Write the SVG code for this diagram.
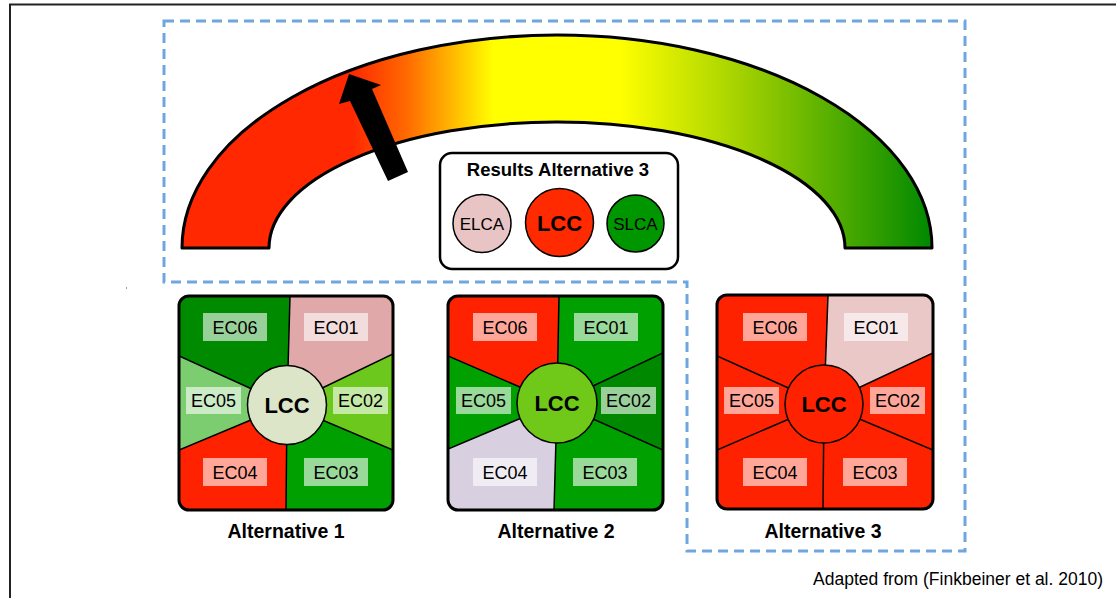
<svg xmlns="http://www.w3.org/2000/svg" width="1116" height="598" viewBox="0 0 1116 598">
  <defs>
    <linearGradient id="gaugeGrad" gradientUnits="userSpaceOnUse" x1="182" y1="0" x2="932" y2="0">
      <stop offset="0" stop-color="#ff2800"/>
      <stop offset="0.227" stop-color="#ff2800"/>
      <stop offset="0.3" stop-color="#ff6a00"/>
      <stop offset="0.415" stop-color="#ffff00"/>
      <stop offset="0.584" stop-color="#ffff00"/>
      <stop offset="0.75" stop-color="#a0d000"/>
      <stop offset="1" stop-color="#008800"/>
    </linearGradient>
    <clipPath id="clip1"><rect x="179" y="296" width="214" height="214" rx="10"/></clipPath>
    <clipPath id="clip2"><rect x="448" y="296" width="215" height="214" rx="10"/></clipPath>
    <clipPath id="clip3"><rect x="717" y="295" width="216" height="214" rx="10"/></clipPath>
  </defs>
  <style>
    .txt { font-family: "Liberation Sans", Arial, sans-serif; fill: #000; }
    .lbl { font-size: 18px; text-anchor: middle; }
    .title { font-size: 19.5px; font-weight: bold; text-anchor: middle; }
    .lcc { font-size: 22px; font-weight: bold; text-anchor: middle; }
    .small { font-size: 17px; text-anchor: middle; }
    .tag { fill: #ffffff; fill-opacity: 0.6; }
    .div { stroke: #000; stroke-width: 1.5; fill: none; }
    .frame { fill: none; stroke: #000; stroke-width: 3; }
    .hub { stroke: #000; stroke-width: 1.5; }
  </style>

  <rect width="1116" height="598" fill="#ffffff"/>

  <!-- page border (top and left) -->
  <path d="M10,598 V4.5 H1116" fill="none" stroke="#222" stroke-width="2"/>
  <rect x="126" y="287" width="1" height="2" fill="#999"/>

  <!-- highlight region around gauge and alternative 3 -->
  <path id="highlight" d="M164,21 H965 V551 H687 V282 H164 Z" fill="none" stroke="#6fa6de" stroke-width="3" stroke-dasharray="10 6"/>

  <!-- gauge arc -->
  <g id="gauge">
    <path d="M182,248 A375,213 0 0 1 932,248 L845,248 A288,126 0 0 0 269,248 Z" fill="url(#gaugeGrad)" stroke="#000" stroke-width="3" stroke-linejoin="round"/>
  </g>

  <!-- gauge needle -->
  <g id="connectors">
    <polygon points="349,74 381,85 372,89 408,172 388,181 350,101 339,104" fill="#000"/>
  </g>

  <!-- results summary -->
  <g id="results">
    <rect x="440" y="153" width="238" height="116" rx="12" fill="#fff" stroke="#000" stroke-width="2.5"/>
    <text class="txt" x="558" y="176" font-size="18.5" font-weight="bold" text-anchor="middle">Results Alternative 3</text>
    <circle cx="482" cy="223.5" r="29" fill="#e8c4c4" class="hub"/>
    <text class="txt small" x="482" y="229.5">ELCA</text>
    <circle cx="559.5" cy="222.5" r="34" fill="#ff2a00" class="hub"/>
    <text class="txt lcc" x="559.5" y="230.5">LCC</text>
    <circle cx="635.5" cy="223.5" r="28.5" fill="#009600" class="hub"/>
    <text class="txt small" x="635.5" y="229.5">SLCA</text>
  </g>

  <!-- alternative 1 -->
  <g id="alt1">
    <g clip-path="url(#clip1)">
      <polygon points="287,405 290,296 393,296 393,354" fill="#e0a8a8"/>
      <polygon points="287,405 393,354 393,450" fill="#6cc81c"/>
      <polygon points="287,405 393,450 393,510 286,510" fill="#00a000"/>
      <polygon points="287,405 286,510 179,510 179,450" fill="#ff2200"/>
      <polygon points="287,405 179,450 179,356" fill="#7ccc70"/>
      <polygon points="287,405 179,356 179,296 290,296" fill="#008a00"/>
      <path class="div" d="M290,296 L287,405 M393,354 L287,405 M393,450 L287,405 M286,510 L287,405 M179,450 L287,405 M179,356 L287,405"/>
    </g>
    <rect x="179" y="296" width="214" height="214" rx="10" class="frame"/>
    <circle cx="287" cy="405" r="39.5" fill="#dde5c8" class="hub"/>
    <text class="txt lcc" x="287" y="413">LCC</text>
    <rect class="tag" x="203" y="313" width="64" height="28"/><text class="txt lbl" x="235" y="333.5">EC06</text>
    <rect class="tag" x="304" y="313" width="64" height="28"/><text class="txt lbl" x="336" y="333.5">EC01</text>
    <rect class="tag" x="186" y="387" width="55" height="27"/><text class="txt lbl" x="213.5" y="406.5">EC05</text>
    <rect class="tag" x="333" y="387" width="55" height="27"/><text class="txt lbl" x="360.5" y="406.5">EC02</text>
    <rect class="tag" x="203" y="458" width="64" height="28"/><text class="txt lbl" x="235" y="478.5">EC04</text>
    <rect class="tag" x="304" y="458" width="64" height="28"/><text class="txt lbl" x="336" y="478.5">EC03</text>
    <text class="txt title" x="286" y="538">Alternative 1</text>
  </g>

  <!-- alternative 2 -->
  <g id="alt2">
    <g clip-path="url(#clip2)">
      <polygon points="557,403 559,296 663,296 663,353" fill="#00a000"/>
      <polygon points="557,403 663,353 663,450" fill="#008800"/>
      <polygon points="557,403 663,450 663,510 554,510" fill="#00a000"/>
      <polygon points="557,403 554,510 448,510 448,449" fill="#d8d0e0"/>
      <polygon points="557,403 448,449 448,356" fill="#00a000"/>
      <polygon points="557,403 448,356 448,296 559,296" fill="#ff2200"/>
      <path class="div" d="M559,296 L557,403 M663,353 L557,403 M663,450 L557,403 M554,510 L557,403 M448,449 L557,403 M448,356 L557,403"/>
    </g>
    <rect x="448" y="296" width="215" height="214" rx="10" class="frame"/>
    <circle cx="557" cy="403" r="40" fill="#70c818" class="hub"/>
    <text class="txt lcc" x="557" y="411">LCC</text>
    <rect class="tag" x="473" y="313" width="64" height="28"/><text class="txt lbl" x="505" y="333.5">EC06</text>
    <rect class="tag" x="574" y="313" width="64" height="28"/><text class="txt lbl" x="606" y="333.5">EC01</text>
    <rect class="tag" x="456" y="387" width="55" height="27"/><text class="txt lbl" x="483.5" y="406.5">EC05</text>
    <rect class="tag" x="601" y="387" width="55" height="27"/><text class="txt lbl" x="628.5" y="406.5">EC02</text>
    <rect class="tag" x="473" y="458" width="64" height="28"/><text class="txt lbl" x="505" y="478.5">EC04</text>
    <rect class="tag" x="573" y="458" width="64" height="28"/><text class="txt lbl" x="605" y="478.5">EC03</text>
    <text class="txt title" x="556" y="538">Alternative 2</text>
  </g>

  <!-- alternative 3 -->
  <g id="alt3">
    <g clip-path="url(#clip3)">
      <polygon points="824,404 828,295 933,295 933,353" fill="#ebc8c8"/>
      <polygon points="824,404 933,353 933,450" fill="#ff2200"/>
      <polygon points="824,404 933,450 933,509 823,509" fill="#ff2200"/>
      <polygon points="824,404 823,509 717,509 717,450" fill="#ff2200"/>
      <polygon points="824,404 717,450 717,356" fill="#ff2200"/>
      <polygon points="824,404 717,356 717,295 828,295" fill="#ff2200"/>
      <path class="div" d="M828,295 L824,404 M933,353 L824,404 M933,450 L824,404 M823,509 L824,404 M717,450 L824,404 M717,356 L824,404"/>
    </g>
    <rect x="717" y="295" width="216" height="214" rx="10" class="frame"/>
    <circle cx="824" cy="404" r="39" fill="#ff2200" class="hub"/>
    <text class="txt lcc" x="824" y="412">LCC</text>
    <rect class="tag" x="743" y="313" width="64" height="28"/><text class="txt lbl" x="775" y="333.5">EC06</text>
    <rect class="tag" x="844" y="313" width="64" height="28"/><text class="txt lbl" x="876" y="333.5">EC01</text>
    <rect class="tag" x="724" y="387" width="55" height="27"/><text class="txt lbl" x="751.5" y="406.5">EC05</text>
    <rect class="tag" x="870" y="387" width="55" height="27"/><text class="txt lbl" x="897.5" y="406.5">EC02</text>
    <rect class="tag" x="743" y="458" width="64" height="28"/><text class="txt lbl" x="775" y="478.5">EC04</text>
    <rect class="tag" x="843" y="458" width="64" height="28"/><text class="txt lbl" x="875" y="478.5">EC03</text>
    <text class="txt title" x="823" y="538">Alternative 3</text>
  </g>

  <!-- source note -->
  <text id="source" class="txt" x="1103" y="585" font-size="17.5" text-anchor="end">Adapted from (Finkbeiner et al. 2010)</text>
</svg>
